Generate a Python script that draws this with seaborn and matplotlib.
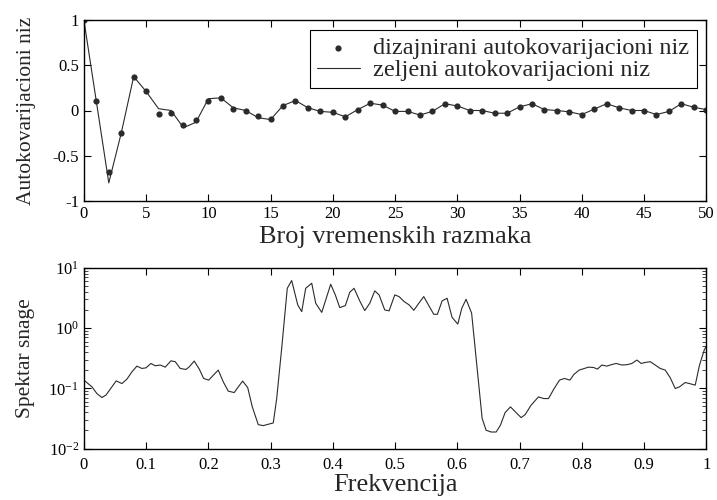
import numpy as np
import pandas as pd
import seaborn as sns
import matplotlib.pyplot as plt
from matplotlib.ticker import LogLocator, NullFormatter

# autocovariance values (lags 0..50)
lags = list(range(51))
designed_acv = [1.0, 0.11, -0.68, -0.25, 0.375, 0.21, -0.04, -0.03, -0.16, -0.11,
                0.11, 0.14, 0.02, -0.01, -0.06, -0.09, 0.055, 0.11, 0.03, -0.01,
                -0.02, -0.07, 0.01, 0.08, 0.06, -0.01, -0.01, -0.05, -0.01, 0.075,
                0.05, 0.0, 0.0, -0.03, -0.03, 0.04, 0.075, 0.01, 0.0, -0.015,
                -0.045, 0.015, 0.075, 0.03, 0.0, 0.0, -0.045, -0.01, 0.075, 0.035,
                0.01]
desired_acv = [1.0, 0.10, -0.80, -0.25, 0.375, 0.21, 0.02, 0.0, -0.19, -0.13,
               0.13, 0.14, 0.03, 0.0, -0.08, -0.10, 0.055, 0.11, 0.03, -0.01,
               -0.02, -0.07, 0.01, 0.08, 0.06, -0.01, -0.01, -0.05, -0.01, 0.075,
               0.05, 0.0, 0.0, -0.03, -0.03, 0.04, 0.075, 0.01, 0.0, -0.015,
               -0.045, 0.015, 0.075, 0.03, 0.0, 0.0, -0.045, -0.01, 0.075, 0.035,
               0.01]

# power spectrum
freq = [0.0, 0.0129, 0.0209, 0.0289, 0.0354, 0.0439, 0.0519, 0.0611, 0.0691, 0.0772,
        0.0852, 0.0932, 0.0997, 0.1077, 0.1146, 0.1227, 0.1307, 0.1399, 0.1468, 0.1548,
        0.164, 0.1693, 0.1773, 0.1854, 0.1924, 0.2005, 0.2159, 0.224, 0.232, 0.2416,
        0.2481, 0.2551, 0.2632, 0.2706, 0.2802, 0.2883, 0.2963, 0.3043, 0.3098, 0.3178,
        0.3268, 0.3339, 0.3436, 0.35, 0.3564, 0.3661, 0.3725, 0.3822, 0.3966, 0.404,
        0.4111, 0.4201, 0.4272, 0.4341, 0.4432, 0.4513, 0.4593, 0.4674, 0.4743, 0.4834,
        0.4904, 0.4995, 0.5064, 0.5145, 0.5225, 0.5301, 0.5381, 0.5461, 0.5542, 0.5622,
        0.568, 0.5756, 0.5836, 0.5916, 0.6008, 0.6072, 0.6141, 0.623, 0.6399, 0.6463,
        0.6543, 0.6624, 0.6693, 0.6768, 0.6854, 0.6945, 0.7026, 0.709, 0.7186, 0.7304,
        0.739, 0.7465, 0.7551, 0.7642, 0.7722, 0.7809, 0.7873, 0.7958, 0.8108, 0.8188,
        0.8252, 0.8323, 0.8403, 0.8484, 0.8553, 0.8645, 0.8725, 0.8805, 0.8886, 0.8955,
        0.9019, 0.91, 0.918, 0.926, 0.9341, 0.9421, 0.9502, 0.9571, 0.9662, 0.9743,
        0.9823, 0.9892, 0.9968, 1.0]
psd = [0.137, 0.106, 0.0818, 0.0703, 0.0771, 0.102, 0.133, 0.120, 0.142, 0.188,
       0.234, 0.214, 0.219, 0.259, 0.237, 0.244, 0.225, 0.287, 0.277, 0.214,
       0.206, 0.228, 0.284, 0.209, 0.146, 0.137, 0.201, 0.128, 0.0897, 0.0851,
       0.106, 0.132, 0.103, 0.0492, 0.0249, 0.024, 0.0253, 0.0266, 0.0676, 0.46,
       4.60, 6.19, 2.44, 1.88, 4.60, 5.58, 2.59, 1.83, 5.37, 3.57,
       2.20, 2.37, 3.95, 4.60, 2.84, 1.96, 2.59, 4.17, 3.57, 2.01,
       1.94, 3.57, 3.35, 2.77, 2.44, 1.98, 2.59, 3.35, 2.37, 1.70,
       1.70, 2.84, 3.14, 1.51, 1.17, 2.14, 3.02, 1.78, 0.0316, 0.0201,
       0.0188, 0.0188, 0.0244, 0.0395, 0.0492, 0.0395, 0.0326, 0.0366, 0.0525, 0.0721,
       0.0676, 0.0676, 0.0970, 0.137, 0.146, 0.137, 0.170, 0.201, 0.225, 0.222,
       0.209, 0.244, 0.234, 0.249, 0.259, 0.244, 0.247, 0.259, 0.295, 0.259,
       0.269, 0.277, 0.244, 0.214, 0.201, 0.150, 0.0993, 0.106, 0.125, 0.119,
       0.113, 0.244, 0.434, 0.50]

sns.set_style("ticks")
plt.rcParams['font.family'] = ['Liberation Serif', 'DejaVu Serif']
plt.rcParams['mathtext.fontset'] = 'stix'
plt.rcParams['xtick.direction'] = 'in'
plt.rcParams['ytick.direction'] = 'in'
plt.rcParams['xtick.top'] = True
plt.rcParams['ytick.right'] = True

ink = '#2b2b2b'

fig = plt.figure(figsize=(7.17, 5.0), dpi=100)
ax1 = fig.add_axes([0.117, 0.598, 0.868, 0.362])
ax2 = fig.add_axes([0.117, 0.103, 0.868, 0.361])

acv = pd.DataFrame({'lag': lags, 'designed': designed_acv, 'desired': desired_acv})
sns.scatterplot(data=acv, x='lag', y='designed', ax=ax1, color=ink, s=20,
                edgecolor=ink, linewidth=0, label='dizajnirani autokovarijacioni niz')
sns.lineplot(data=acv, x='lag', y='desired', ax=ax1, color=ink, linewidth=0.8,
             label='zeljeni autokovarijacioni niz')
ax1.set_xlim(0, 50)
ax1.set_ylim(-1, 1)
ax1.set_xticks(range(0, 51, 5))
ax1.set_yticks([-1, -0.5, 0, 0.5, 1])
ax1.set_yticklabels(['-1', '-0.5', '0', '0.5', '1'])
ax1.set_xlabel('Broj vremenskih razmaka', fontsize=19, labelpad=3)
ax1.set_ylabel('Autokovarijacioni niz', fontsize=15.5, labelpad=12)
leg = ax1.legend(loc='upper right', fontsize=17.5, frameon=True, fancybox=False,
                 edgecolor='black', framealpha=1, borderpad=0.3, handlelength=1.75,
                 handletextpad=0.55, labelspacing=0.0, borderaxespad=0.4)
leg.get_frame().set_linewidth(0.8)

spec = pd.DataFrame({'freq': freq, 'psd': psd})
sns.lineplot(data=spec, x='freq', y='psd', ax=ax2, color=ink, linewidth=0.8)
ax2.set_yscale('log')
ax2.set_xlim(0, 1)
ax2.set_ylim(1e-2, 1e1)
ax2.set_xticks(np.arange(0, 1.01, 0.1))
ax2.set_xticklabels(['0', '0.1', '0.2', '0.3', '0.4', '0.5', '0.6', '0.7', '0.8', '0.9', '1'])
ax2.yaxis.set_major_locator(LogLocator(base=10, numticks=10))
ax2.yaxis.set_minor_locator(LogLocator(base=10, subs=np.arange(2, 10), numticks=10))
ax2.yaxis.set_minor_formatter(NullFormatter())
ax2.set_xlabel('Frekvencija', fontsize=19, labelpad=1)
ax2.set_ylabel('Spektar snage', fontsize=15.5, labelpad=10)

for ax in (ax1, ax2):
    for sp in ax.spines.values():
        sp.set_visible(True)
        sp.set_linewidth(1.0)
        sp.set_color('black')
    ax.tick_params(which='major', length=5, width=0.8, labelsize=12, colors='black')
    ax.tick_params(which='minor', length=3, width=0.6)
ax2.tick_params(axis='x', which='major', pad=6)

fig.savefig('out.png', dpi=100)
